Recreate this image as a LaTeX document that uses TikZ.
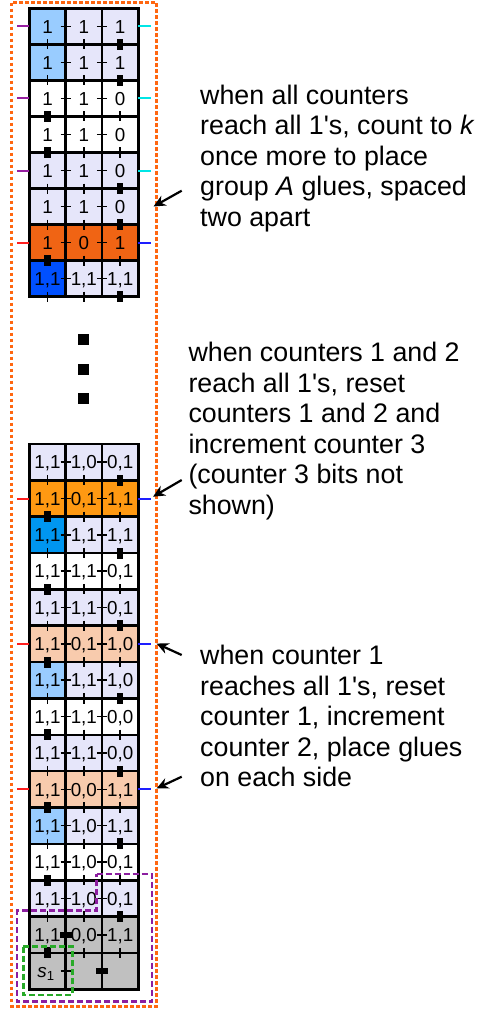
\documentclass[tikz,border=0pt]{standalone}
\usepackage{fontspec}
\setmainfont{Liberation Sans}
\usetikzlibrary{arrows.meta}

\definecolor{lavender}{RGB}{230,230,250}
\definecolor{lightsky}{RGB}{153,204,255}
\definecolor{midblue}{RGB}{0,150,240}
\definecolor{darkblue}{RGB}{0,80,255}
\definecolor{deeporange}{RGB}{240,100,20}
\definecolor{brightorange}{RGB}{255,153,18}
\definecolor{peach}{RGB}{248,203,173}
\definecolor{tilegray}{RGB}{192,192,192}
\definecolor{boxorange}{RGB}{255,102,16}
\definecolor{boxpurple}{RGB}{140,30,160}
\definecolor{boxgreen}{RGB}{40,170,40}
\definecolor{gluepurple}{RGB}{150,30,160}
\definecolor{gluecyan}{RGB}{0,230,230}
\definecolor{gluered}{RGB}{255,30,30}
\definecolor{glueblue}{RGB}{30,30,255}

\begin{document}
\begin{tikzpicture}[x=1pt,y=-1pt,
  cellline/.style={line width=2.6pt},
  gluetick/.style={line width=1.6pt},
  sideglue/.style={line width=2pt},
  lbl/.style={font=\fontsize{18.8}{18.8}\selectfont, inner sep=0pt, text height=13.4pt, text depth=0pt},
  note/.style={font=\fontsize{26.8}{30.5}\selectfont, align=left, anchor=north west, inner sep=0pt},
  gluearrow/.style={-{Stealth[length=12pt,width=11pt]}, line width=2.2pt},
  boxline/.style={line width=3pt, dash pattern=on 3.6pt off 2.4pt},
  groupline/.style={line width=2.5pt, dash pattern=on 6pt off 3pt}]

  \useasboundingbox (0,0) rectangle (480,1012);

  % ---------------- top part of the assembly ----------------
  \begin{scope}[xshift=29.4pt, yshift=-8.3pt, x=36.3pt, y=-36.05pt]

  % tile colours
  \fill[lightsky] (0,0) rectangle (1,2);
  \fill[lavender] (1,0) rectangle (3,2);
  \fill[lavender] (0,4) rectangle (3,6);
  \fill[deeporange] (0,6) rectangle (3,7);
  \fill[darkblue] (0,7) rectangle (1,8);
  \fill[lavender] (1,7) rectangle (3,8);

  % tile borders
  \draw[cellline] (0,0) rectangle (3,8);
  \draw[cellline] (1,0) -- (1,8) (2,0) -- (2,8);
  \draw[cellline] (0,1) -- (3,1) (0,2) -- (3,2) (0,3) -- (3,3) (0,4) -- (3,4);
  \draw[cellline] (0,5) -- (3,5) (0,6) -- (3,6) (0,7) -- (3,7);

  % row 1
  \node[lbl] (t11) at (0.5,0.5) {1};
  \node[lbl] (t12) at (1.5,0.5) {1};
  \node[lbl] (t13) at (2.5,0.5) {1};
  % row 2
  \node[lbl] (t21) at (0.5,1.5) {1};
  \node[lbl] (t22) at (1.5,1.5) {1};
  \node[lbl] (t23) at (2.5,1.5) {1};
  % row 3
  \node[lbl] (t31) at (0.5,2.5) {1};
  \node[lbl] (t32) at (1.5,2.5) {1};
  \node[lbl] (t33) at (2.5,2.5) {0};
  % row 4
  \node[lbl] (t41) at (0.5,3.5) {1};
  \node[lbl] (t42) at (1.5,3.5) {1};
  \node[lbl] (t43) at (2.5,3.5) {0};
  % row 5
  \node[lbl] (t51) at (0.5,4.5) {1};
  \node[lbl] (t52) at (1.5,4.5) {1};
  \node[lbl] (t53) at (2.5,4.5) {0};
  % row 6
  \node[lbl] (t61) at (0.5,5.5) {1};
  \node[lbl] (t62) at (1.5,5.5) {1};
  \node[lbl] (t63) at (2.5,5.5) {0};
  % row 7
  \node[lbl] (t71) at (0.5,6.5) {1};
  \node[lbl] (t72) at (1.5,6.5) {0};
  \node[lbl] (t73) at (2.5,6.5) {1};
  % row 8
  \node[lbl] (t81) at (0.5,7.5) {1,1};
  \node[lbl] (t82) at (1.5,7.5) {1,1};
  \node[lbl] (t83) at (2.5,7.5) {1,1};

  % glues inside each row
  \draw[gluetick] (0.86,0.5) -- (1.14,0.5) (1.86,0.5) -- (2.14,0.5);
  \draw[gluetick] (0.86,1.5) -- (1.14,1.5) (1.86,1.5) -- (2.14,1.5);
  \draw[gluetick] (0.86,2.5) -- (1.14,2.5) (1.86,2.5) -- (2.14,2.5);
  \draw[gluetick] (0.86,3.5) -- (1.14,3.5) (1.86,3.5) -- (2.14,3.5);
  \draw[gluetick] (0.86,4.5) -- (1.14,4.5) (1.86,4.5) -- (2.14,4.5);
  \draw[gluetick] (0.86,5.5) -- (1.14,5.5) (1.86,5.5) -- (2.14,5.5);
  \draw[gluetick] (0.86,6.5) -- (1.14,6.5) (1.86,6.5) -- (2.14,6.5);
  \draw[gluetick] (0.86,7.5) -- (1.14,7.5) (1.86,7.5) -- (2.14,7.5);

  % glues between rows (thin = strength 1, block = strength 2)
  \draw[gluetick] (0.5,0.86) -- (0.5,1.14) (1.5,0.86) -- (1.5,1.14);
  \fill (2.408,0.85) rectangle (2.592,1.15);
  \draw[gluetick] (0.5,1.86) -- (0.5,2.14) (1.5,1.86) -- (1.5,2.14);
  \fill (2.408,1.85) rectangle (2.592,2.15);
  \fill (0.408,2.85) rectangle (0.592,3.15);
  \draw[gluetick] (1.5,2.86) -- (1.5,3.14) (2.5,2.86) -- (2.5,3.14);
  \fill (0.408,3.85) rectangle (0.592,4.15);
  \draw[gluetick] (1.5,3.86) -- (1.5,4.14) (2.5,3.86) -- (2.5,4.14);
  \draw[gluetick] (0.5,4.86) -- (0.5,5.14) (1.5,4.86) -- (1.5,5.14);
  \fill (2.408,4.85) rectangle (2.592,5.15);
  \draw[gluetick] (0.5,5.86) -- (0.5,6.14) (1.5,5.86) -- (1.5,6.14);
  \fill (2.408,5.85) rectangle (2.592,6.15);
  \fill (0.408,6.85) rectangle (0.592,7.15);
  \draw[gluetick] (1.5,6.86) -- (1.5,7.14) (2.5,6.86) -- (2.5,7.14);
  \draw[gluetick] (0.5,7.86) -- (0.5,8.14) (1.5,7.86) -- (1.5,8.14);
  \fill (2.408,7.85) rectangle (2.592,8.15);

  % group glues on the sides
  \draw[sideglue, gluepurple] (-0.33,0.5) -- (0,0.5);
  \draw[sideglue, gluecyan] (3,0.5) -- (3.34,0.5);
  \draw[sideglue, gluepurple] (-0.33,2.5) -- (0,2.5);
  \draw[sideglue, gluecyan] (3,2.5) -- (3.34,2.5);
  \draw[sideglue, gluepurple] (-0.33,4.5) -- (0,4.5);
  \draw[sideglue, gluecyan] (3,4.5) -- (3.34,4.5);
  \draw[sideglue, gluered] (-0.33,6.5) -- (0,6.5);
  \draw[sideglue, glueblue] (3,6.5) -- (3.34,6.5);

  \end{scope}

  % vertical dots
  \fill (78,334.2) rectangle (89,345.2);
  \fill (78,364) rectangle (89,375);
  \fill (78,393.2) rectangle (89,404.2);

  % ---------------- bottom part of the assembly ----------------
  \begin{scope}[xshift=29.4pt, yshift=-444pt, x=36.3pt, y=-36.35pt]

  % tile colours
  \fill[lavender] (0,0) rectangle (3,1);
  \fill[brightorange] (0,1) rectangle (3,2);
  \fill[midblue] (0,2) rectangle (1,3);
  \fill[lavender] (1,2) rectangle (3,3);
  \fill[lavender] (0,4) rectangle (3,5);
  \fill[peach] (0,5) rectangle (3,6);
  \fill[lightsky] (0,6) rectangle (1,7);
  \fill[lavender] (1,6) rectangle (3,7);
  \fill[lavender] (0,8) rectangle (3,9);
  \fill[peach] (0,9) rectangle (3,10);
  \fill[lightsky] (0,10) rectangle (1,11);
  \fill[lavender] (1,10) rectangle (3,11);
  \fill[lavender] (0,12) rectangle (3,13);
  \fill[tilegray] (0,13) rectangle (3,15);

  % tile borders
  \draw[cellline] (0,0) rectangle (3,15);
  \draw[cellline] (1,0) -- (1,15) (2,0) -- (2,15);
  \draw[cellline] (0,1) -- (3,1) (0,2) -- (3,2) (0,3) -- (3,3) (0,4) -- (3,4) (0,5) -- (3,5);
  \draw[cellline] (0,6) -- (3,6) (0,7) -- (3,7) (0,8) -- (3,8) (0,9) -- (3,9) (0,10) -- (3,10);
  \draw[cellline] (0,11) -- (3,11) (0,12) -- (3,12) (0,13) -- (3,13) (0,14) -- (3,14);

  % row 1
  \node[lbl] (b11) at (0.5,0.5) {1,1};
  \node[lbl] (b12) at (1.5,0.5) {1,0};
  \node[lbl] (b13) at (2.5,0.5) {0,1};
  % row 2
  \node[lbl] (b21) at (0.5,1.5) {1,1};
  \node[lbl] (b22) at (1.5,1.5) {0,1};
  \node[lbl] (b23) at (2.5,1.5) {1,1};
  % row 3
  \node[lbl] (b31) at (0.5,2.5) {1,1};
  \node[lbl] (b32) at (1.5,2.5) {1,1};
  \node[lbl] (b33) at (2.5,2.5) {1,1};
  % row 4
  \node[lbl] (b41) at (0.5,3.5) {1,1};
  \node[lbl] (b42) at (1.5,3.5) {1,1};
  \node[lbl] (b43) at (2.5,3.5) {0,1};
  % row 5
  \node[lbl] (b51) at (0.5,4.5) {1,1};
  \node[lbl] (b52) at (1.5,4.5) {1,1};
  \node[lbl] (b53) at (2.5,4.5) {0,1};
  % row 6
  \node[lbl] (b61) at (0.5,5.5) {1,1};
  \node[lbl] (b62) at (1.5,5.5) {0,1};
  \node[lbl] (b63) at (2.5,5.5) {1,0};
  % row 7
  \node[lbl] (b71) at (0.5,6.5) {1,1};
  \node[lbl] (b72) at (1.5,6.5) {1,1};
  \node[lbl] (b73) at (2.5,6.5) {1,0};
  % row 8
  \node[lbl] (b81) at (0.5,7.5) {1,1};
  \node[lbl] (b82) at (1.5,7.5) {1,1};
  \node[lbl] (b83) at (2.5,7.5) {0,0};
  % row 9
  \node[lbl] (b91) at (0.5,8.5) {1,1};
  \node[lbl] (b92) at (1.5,8.5) {1,1};
  \node[lbl] (b93) at (2.5,8.5) {0,0};
  % row 10
  \node[lbl] (b101) at (0.5,9.5) {1,1};
  \node[lbl] (b102) at (1.5,9.5) {0,0};
  \node[lbl] (b103) at (2.5,9.5) {1,1};
  % row 11
  \node[lbl] (b111) at (0.5,10.5) {1,1};
  \node[lbl] (b112) at (1.5,10.5) {1,0};
  \node[lbl] (b113) at (2.5,10.5) {1,1};
  % row 12
  \node[lbl] (b121) at (0.5,11.5) {1,1};
  \node[lbl] (b122) at (1.5,11.5) {1,0};
  \node[lbl] (b123) at (2.5,11.5) {0,1};
  % row 13
  \node[lbl] (b131) at (0.5,12.5) {1,1};
  \node[lbl] (b132) at (1.5,12.5) {1,0};
  \node[lbl] (b133) at (2.5,12.5) {0,1};
  % row 14 (seed row)
  \node[lbl] (b141) at (0.5,13.5) {1,1};
  \node[lbl] (b142) at (1.5,13.5) {0,0};
  \node[lbl] (b143) at (2.5,13.5) {1,1};
  % row 15 (seed)
  \node[lbl] (seed) at (0.46,14.5) {\textit{s}\textsubscript{1}};

  % glues inside each row
  \draw[gluetick] (0.86,0.5) -- (1.14,0.5) (1.86,0.5) -- (2.14,0.5);
  \draw[gluetick] (0.86,1.5) -- (1.14,1.5) (1.86,1.5) -- (2.14,1.5);
  \draw[gluetick] (0.86,2.5) -- (1.14,2.5) (1.86,2.5) -- (2.14,2.5);
  \draw[gluetick] (0.86,3.5) -- (1.14,3.5) (1.86,3.5) -- (2.14,3.5);
  \draw[gluetick] (0.86,4.5) -- (1.14,4.5) (1.86,4.5) -- (2.14,4.5);
  \draw[gluetick] (0.86,5.5) -- (1.14,5.5) (1.86,5.5) -- (2.14,5.5);
  \draw[gluetick] (0.86,6.5) -- (1.14,6.5) (1.86,6.5) -- (2.14,6.5);
  \draw[gluetick] (0.86,7.5) -- (1.14,7.5) (1.86,7.5) -- (2.14,7.5);
  \draw[gluetick] (0.86,8.5) -- (1.14,8.5) (1.86,8.5) -- (2.14,8.5);
  \draw[gluetick] (0.86,9.5) -- (1.14,9.5) (1.86,9.5) -- (2.14,9.5);
  \draw[gluetick] (0.86,10.5) -- (1.14,10.5) (1.86,10.5) -- (2.14,10.5);
  \draw[gluetick] (0.86,11.5) -- (1.14,11.5) (1.86,11.5) -- (2.14,11.5);
  \draw[gluetick] (0.86,12.5) -- (1.14,12.5) (1.86,12.5) -- (2.14,12.5);
  \fill (0.84,13.413) rectangle (1.16,13.587);
  \draw[gluetick] (1.86,13.5) -- (2.14,13.5);
  \draw[gluetick] (0.86,14.5) -- (1.14,14.5);
  \fill (1.84,14.413) rectangle (2.16,14.587);

  % glues between rows
  \draw[gluetick] (0.5,0.86) -- (0.5,1.14) (1.5,0.86) -- (1.5,1.14);
  \fill (2.408,0.85) rectangle (2.592,1.15);
  \fill (0.408,1.85) rectangle (0.592,2.15);
  \draw[gluetick] (1.5,1.86) -- (1.5,2.14) (2.5,1.86) -- (2.5,2.14);
  \draw[gluetick] (0.5,2.86) -- (0.5,3.14) (1.5,2.86) -- (1.5,3.14);
  \fill (2.408,2.85) rectangle (2.592,3.15);
  \fill (0.408,3.85) rectangle (0.592,4.15);
  \draw[gluetick] (1.5,3.86) -- (1.5,4.14) (2.5,3.86) -- (2.5,4.14);
  \draw[gluetick] (0.5,4.86) -- (0.5,5.14) (1.5,4.86) -- (1.5,5.14);
  \fill (2.408,4.85) rectangle (2.592,5.15);
  \fill (0.408,5.85) rectangle (0.592,6.15);
  \draw[gluetick] (1.5,5.86) -- (1.5,6.14) (2.5,5.86) -- (2.5,6.14);
  \draw[gluetick] (0.5,6.86) -- (0.5,7.14) (1.5,6.86) -- (1.5,7.14);
  \fill (2.408,6.85) rectangle (2.592,7.15);
  \fill (0.408,7.85) rectangle (0.592,8.15);
  \draw[gluetick] (1.5,7.86) -- (1.5,8.14) (2.5,7.86) -- (2.5,8.14);
  \draw[gluetick] (0.5,8.86) -- (0.5,9.14) (1.5,8.86) -- (1.5,9.14);
  \fill (2.408,8.85) rectangle (2.592,9.15);
  \fill (0.408,9.85) rectangle (0.592,10.15);
  \draw[gluetick] (1.5,9.86) -- (1.5,10.14) (2.5,9.86) -- (2.5,10.14);
  \draw[gluetick] (0.5,10.86) -- (0.5,11.14) (1.5,10.86) -- (1.5,11.14);
  \fill (2.408,10.85) rectangle (2.592,11.15);
  \fill (0.408,11.85) rectangle (0.592,12.15);
  \draw[gluetick] (1.5,11.86) -- (1.5,12.14) (2.5,11.86) -- (2.5,12.14);
  \draw[gluetick] (0.5,12.86) -- (0.5,13.14) (1.5,12.86) -- (1.5,13.14);
  \fill (2.408,12.85) rectangle (2.592,13.15);
  \fill (0.408,13.85) rectangle (0.592,14.15);
  \draw[gluetick] (1.5,13.86) -- (1.5,14.14) (2.5,13.86) -- (2.5,14.14);

  % glues on the sides
  \draw[sideglue, gluered] (-0.33,1.5) -- (0,1.5);
  \draw[sideglue, glueblue] (3,1.5) -- (3.34,1.5);
  \draw[sideglue, gluered] (-0.33,5.5) -- (0,5.5);
  \draw[sideglue, glueblue] (3,5.5) -- (3.34,5.5);
  \draw[sideglue, gluered] (-0.33,9.5) -- (0,9.5);
  \draw[sideglue, glueblue] (3,9.5) -- (3.34,9.5);

  \end{scope}

  % dashed boxes around the groups of tiles
  \draw[boxline, boxorange] (11.7,2.7) rectangle (156.7,1006.3);
  \draw[groupline, boxpurple] (96.7,874) -- (152,874) -- (152,1001.7) -- (17,1001.7) -- (17,910.7) -- (96.7,910.7) -- cycle;
  \draw[groupline, boxgreen] (23.3,946.7) rectangle (72.3,995);

  % explanations
  \node[note] (note1) at (200,84.6) {when all counters\\reach all 1\textquotesingle s, count to \textit{k}\\once more to place\\group \textit{A} glues, spaced\\two apart};
  \node[note] (note2) at (188.3,342) {when counters 1 and 2\\reach all 1\textquotesingle s, reset\\counters 1 and 2 and\\increment counter 3\\(counter 3 bits not\\shown)};
  \node[note] (note3) at (200,645.3) {when counter 1\\reaches all 1\textquotesingle s, reset\\counter 1, increment\\counter 2, place glues\\on each side};

  % arrows to the glue positions
  \coordinate (from1) at (181.7,190.7);
  \coordinate (to1) at (153.5,206.5);
  \coordinate (from2) at (181.7,480);
  \coordinate (to2) at (153,496.7);
  \coordinate (from3) at (181.7,655);
  \coordinate (to3) at (156.5,643.5);
  \coordinate (from4) at (181.7,776.7);
  \coordinate (to4) at (156.5,788.5);
  \draw[gluearrow] (from1) -- (to1);
  \draw[gluearrow] (from2) -- (to2);
  \draw[gluearrow] (from3) -- (to3);
  \draw[gluearrow] (from4) -- (to4);

\end{tikzpicture}
\end{document}
